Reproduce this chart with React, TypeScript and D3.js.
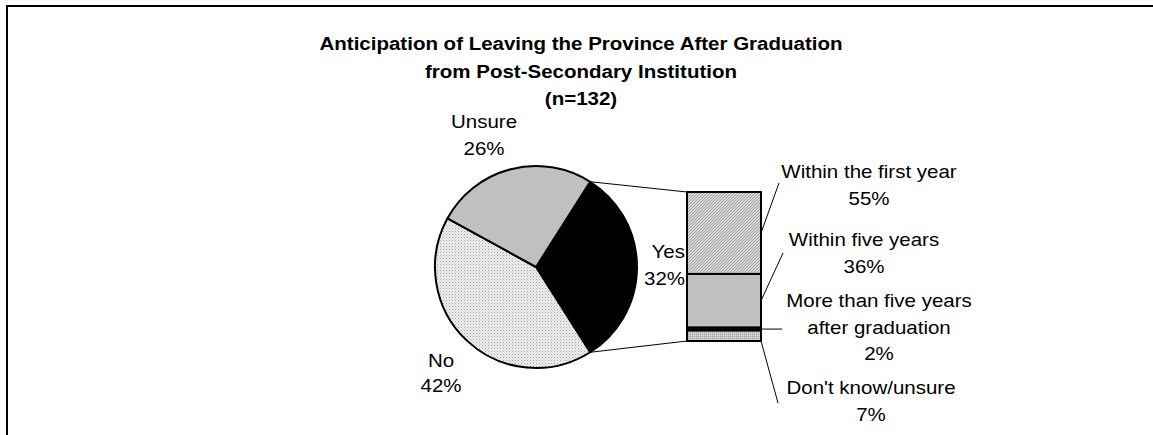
import React from "react";
import * as d3 from "d3";

const titleLines = [
  "Anticipation of Leaving the Province After Graduation",
  "from Post-Secondary Institution",
  "(n=132)",
];
const pieCategories = ["Yes", "No", "Unsure"];
const pieValues = [32, 42, 26];
const barCategories = [
  ["Within the first year"],
  ["Within five years"],
  ["More than five years", "after graduation"],
  ["Don't know/unsure"],
];
const barValues = [55, 36, 2, 7];

const W = 1153;
const H = 435;
const FONT = "Arial, 'Liberation Sans', Helvetica, sans-serif";
const FS = 20.5;
const LH = 26.5;
const VS = 0.92;

function Label({ x, y, lines, anchor = "middle", size = FS, lh = LH, bold = false }:
  { x: number; y: number; lines: string[]; anchor?: string; size?: number; lh?: number; bold?: boolean }) {
  // y = baseline of first line
  return (
    <g>
      {lines.map((l, i) => (
        <text
          key={i}
          transform={`translate(${x},${y + i * lh}) scale(1,${VS})`}
          textAnchor={anchor}
          fontFamily={FONT}
          fontSize={size}
          fontWeight={bold ? "bold" : "normal"}
          fill="#000"
        >
          {l}
        </text>
      ))}
    </g>
  );
}

export default function App() {
  const cx = 536, cy = 267, r = 101;
  const total = d3.sum(pieValues);
  const yesSpan = (pieValues[0] / total) * Math.PI * 2;
  const start = Math.PI / 2 - yesSpan / 2;
  const pie = d3.pie<number>().sort(null).startAngle(start).endAngle(start + Math.PI * 2);
  const arcs = pie(pieValues);
  const arc = d3.arc<d3.PieArcDatum<number>>().innerRadius(0).outerRadius(r);
  const pieFills = ["#000000", "url(#dotsLight)", "#c0c0c0"];

  const barX0 = 687, barX1 = 761, barTop = 192, barBottom = 341;
  const y = d3.scaleLinear().domain([0, d3.sum(barValues)]).range([barTop, barBottom]);
  const cum = d3.cumsum(barValues);
  const segs = barValues.map((v, i) => ({ v, y0: y(cum[i] - v), y1: y(cum[i]) }));
  const barFills = ["url(#hatch)", "#c0c0c0", "#2a0a2a", "url(#dotsMid)"];

  const pt = (a: number): [number, number] => [cx + r * Math.sin(a), cy - r * Math.cos(a)];
  const pA = pt(arcs[0].startAngle);
  const pB = pt(arcs[0].endAngle);

  // label anchor (center x, first baseline) and leader end point
  const barLabelPos = [
    { x: 869, y: 178, lx: 779, ly: 183 },
    { x: 864, y: 246, lx: 783, ly: 253 },
    { x: 879, y: 307, lx: 782, ly: null as number | null },
    { x: 871, y: 394, lx: 778, ly: 403 },
  ];

  return (
    <svg width={W} height={H} style={{ position: "absolute", left: 0, top: 0 }}>
      <defs>
        <pattern id="dotsLight" width="3" height="3" patternUnits="userSpaceOnUse">
          <rect width="3" height="3" fill="#ececec" />
          <rect x="0" y="0" width="1" height="1" fill="#a8a8a8" />
          <rect x="1.5" y="1.5" width="1" height="1" fill="#c8c8c8" />
        </pattern>
        <pattern id="dotsMid" width="2" height="2" patternUnits="userSpaceOnUse">
          <rect width="2" height="2" fill="#d0d0d0" />
          <rect x="0" y="0" width="1" height="1" fill="#a0a0a0" />
        </pattern>
        <pattern id="hatch" width="3" height="3" patternUnits="userSpaceOnUse">
          <rect width="3" height="3" fill="#d4d4d4" />
          <path d="M0,3 L3,0" stroke="#a0a0a0" strokeWidth="0.9" />
        </pattern>
      </defs>
      <rect x={0} y={0} width={W} height={H} fill="#fff" />
      <path d={`M7,${H + 5} L7,6 L${W + 5},6`} fill="none" stroke="#000" strokeWidth={2} />

      <Label x={581} y={50} lines={titleLines} bold lh={27.5} />

      {/* connector lines */}
      <line x1={pA[0]} y1={pA[1]} x2={barX0} y2={barTop} stroke="#000" strokeWidth={1} />
      <line x1={pB[0]} y1={pB[1]} x2={barX0} y2={barBottom} stroke="#000" strokeWidth={1} />

      <g transform={`translate(${cx},${cy})`}>
        {arcs.map((a, i) => (
          <path key={i} d={arc(a) || ""} fill={pieFills[i]} stroke="#000" strokeWidth={2} strokeLinejoin="round" />
        ))}
      </g>

      {segs.map((s, i) => (
        <rect key={i} x={barX0} y={s.y0} width={barX1 - barX0} height={s.y1 - s.y0}
          fill={barFills[i]} stroke="#000" strokeWidth={2} />
      ))}

      {barLabelPos.map((p, i) => {
        const s = segs[i];
        const by = i === barLabelPos.length - 1 ? s.y1 : (s.y0 + s.y1) / 2;
        const ly = p.ly === null ? by : p.ly;
        return (
          <g key={i}>
            <line x1={barX1} y1={by} x2={p.lx} y2={ly} stroke="#000" strokeWidth={1} />
            <Label x={p.x} y={p.y} lines={[...barCategories[i], `${barValues[i]}%`]} />
          </g>
        );
      })}

      <Label x={484} y={128} lines={[pieCategories[2], `${pieValues[2]}%`]} />
      <Label x={685} y={258} lines={[pieCategories[0], `${pieValues[0]}%`]} anchor="end" />
      <Label x={441} y={367} lines={[pieCategories[1], `${pieValues[1]}%`]} lh={25} />
    </svg>
  );
}
